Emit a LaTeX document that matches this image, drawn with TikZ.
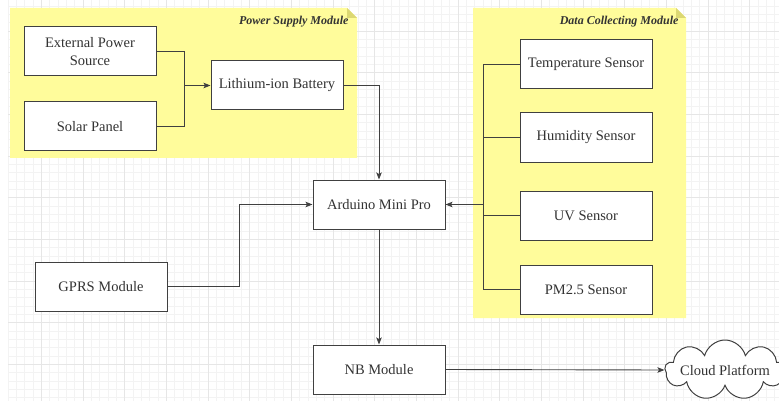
\documentclass[tikz,border=0pt]{standalone}
\usepackage{fontspec}
\setmainfont{Liberation Serif}
\usetikzlibrary{arrows.meta, positioning, calc, shapes.symbols}
\definecolor{notefill}{RGB}{255, 252, 155}
\definecolor{notefold}{RGB}{220, 216, 115}
\definecolor{linegray}{RGB}{64, 64, 64}
\definecolor{textgray}{RGB}{51, 51, 51}
\definecolor{gridminor}{RGB}{243, 243, 243}
\definecolor{gridmajor}{RGB}{230, 230, 230}

\begin{document}
\begin{tikzpicture}[
    x=1pt, y=-1pt,
    block/.style={
        rectangle, draw=linegray, fill=white, line width=1pt,
        minimum width=132pt, minimum height=49pt, inner sep=2pt,
        font=\fontsize{14.5}{18}\selectfont, text=textgray, align=center
    },
    notetitle/.style={
        anchor=east, font=\fontsize{12}{14}\selectfont\bfseries\itshape, text=textgray
    },
    wire/.style={line width=0.9pt, draw=linegray},
    arr/.style={wire, -{Stealth[length=7pt, width=5.5pt, inset=1.5pt]}}
]
\useasboundingbox (0,0) rectangle (779,401);
\clip (0,0) rectangle (779,401);

% Background grid
\foreach \i in {0,...,92} {
    \draw[gridminor, line width=0.6pt] ({8+8.333*\i},0) -- ({8+8.333*\i},401);
}
\foreach \j in {0,...,47} {
    \draw[gridminor, line width=0.6pt] (8,{6+8.333*\j}) -- (779,{6+8.333*\j});
}
\foreach \i in {4,9,...,89} {
    \draw[gridmajor, line width=0.6pt] ({8+8.333*\i},0) -- ({8+8.333*\i},401);
}
\foreach \j in {3,8,...,43} {
    \draw[gridmajor, line width=0.6pt] (8,{6+8.333*\j}) -- (779,{6+8.333*\j});
}

% Notes (module groups)
\fill[notefill] (10,8) -- (347,8) -- (357,18) -- (357,158) -- (10,158) -- cycle;
\fill[notefold] (347,8) -- (357,18) -- (347,18) -- cycle;
\node[notetitle] (pstitle) at (352,21.5) {Power Supply Module};

\fill[notefill] (473,8) -- (676,8) -- (686,18) -- (686,318) -- (473,318) -- cycle;
\fill[notefold] (676,8) -- (686,18) -- (676,18) -- cycle;
\node[notetitle] (dctitle) at (682,21.5) {Data Collecting Module};

% Power supply
\node[block] (ext)   at (90,51.5)   {External Power\\Source};
\node[block] (solar) at (90,126.5)  {Solar Panel};
\node[block] (bat)   at (277,85.5)  {Lithium-ion Battery};

% Core
\node[block] (ard)  at (379,204.5) {Arduino Mini Pro};
\node[block] (gprs) at (101,286.5) {GPRS Module};
\node[block] (nb)   at (379,369.5) {NB Module};
\node[cloud, cloud puffs=9, cloud ignores aspect, draw=linegray, fill=white, line width=1pt,
      minimum width=120pt, minimum height=60pt, inner sep=0pt,
      label={[font=\fontsize{14.5}{18}\selectfont, text=textgray]center:Cloud Platform}]
      (cloud) at (725,370) {};

% Sensors
\node[block] (temp) at (586,64.5)  {Temperature Sensor};
\node[block] (hum)  at (586,137.5) {Humidity Sensor};
\node[block] (uv)   at (586,215.5) {UV Sensor};
\node[block] (pm)   at (586,289.5) {PM2.5 Sensor};

% Junctions
\coordinate (pj)  at (184,85.5);
\coordinate (bus) at (483,204.5);

% Connectors
\draw[wire] (ext.east) -| (pj);
\draw[wire] (solar.east) -| (pj);
\draw[arr] (pj) -- (bat.west);
\draw[arr] (bat.east) -| (ard.north);

\draw[wire] (temp.west) -| (bus);
\draw[wire] (pm.west) -| (bus);
\draw[wire] (hum.west) -- (hum.west -| bus);
\draw[wire] (uv.west) -- (uv.west -| bus);
\draw[arr] (bus) -- (ard.east);

\draw[arr] (gprs.east) -- ++(72,0) |- (ard.west);
\draw[arr] (ard.south) -- (nb.north);
\draw[arr] (nb.east) -- (cloud.west);

\end{tikzpicture}
\end{document}
